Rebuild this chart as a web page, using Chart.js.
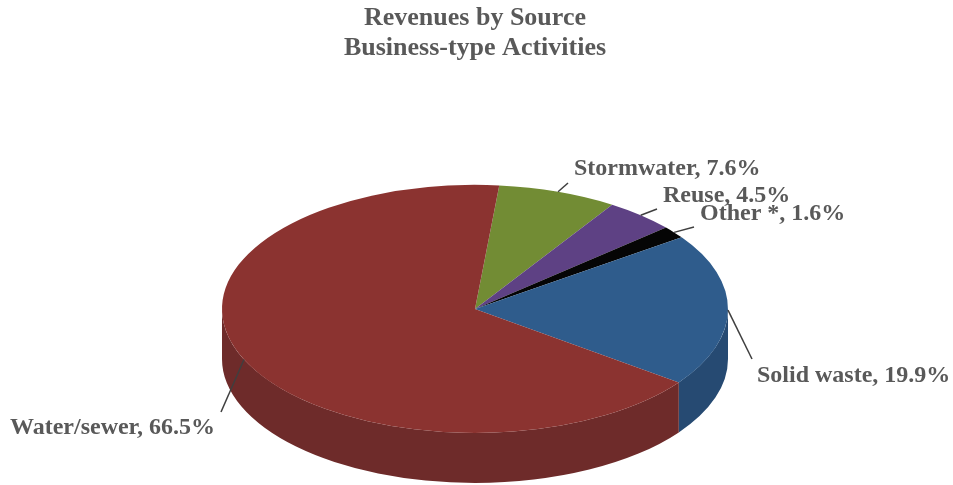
<!DOCTYPE html>
<html>
<head>
<meta charset="utf-8">
<title>Revenues by Source</title>
<script src="https://cdn.jsdelivr.net/npm/chart.js@4"></script>
<style>
    html, body { margin: 0; background: #fff; }
    canvas { display: block; }
</style>
</head>
<body>
<canvas id="revenueChart" width="953" height="485"></canvas>
<script>
const titleLines = ['Revenues by Source', 'Business-type Activities'];
const categories = ['Stormwater', 'Reuse', 'Other *', 'Solid waste', 'Water/sewer'];
const shares = [7.6, 4.5, 1.6, 19.9, 66.5];

const topColors = ['#728c34', '#5e4184', '#050505', '#2f5c8c', '#8b3330'];
const wallColors = ['#55692a', '#463162', '#000000', '#264a72', '#6e2b2a'];

// label anchor (left edge, middle of text) and where its leader line stops
const labelSpots = [
    { x: 574, y: 169, lineX: 568, lineY: 183 },
    { x: 663, y: 196, lineX: 657, lineY: 209 },
    { x: 700, y: 214, lineX: 694, lineY: 227 },
    { x: 757, y: 376, lineX: 752, lineY: 359 },
    { x: 10, y: 428, lineX: 221, lineY: 412 }
];

const pieWidth = 253;
const pieHeight = 124;
const pieDepth = 50;
const textFont = 'bold 24px "Liberation Serif"';

// the pie is drawn flat by Chart.js, this squashes it and adds the wall below
const tiltPlugin = {
    id: 'tilt',
    beforeDatasetsDraw(chart) {
        const ctx = chart.ctx;
        const arcs = chart.getDatasetMeta(0).data;
        const { x: cx, y: cy, outerRadius } = arcs[0];

        arcs.forEach((arc, i) => {
            // only the front half of the rim can be seen
            for (const shift of [-2 * Math.PI, 0, 2 * Math.PI]) {
                const from = Math.max(arc.startAngle + shift, 0);
                const to = Math.min(arc.endAngle + shift, Math.PI);
                if (to <= from) continue;
                ctx.beginPath();
                ctx.ellipse(cx, cy, pieWidth, pieHeight, 0, from, to);
                ctx.ellipse(cx, cy + pieDepth, pieWidth, pieHeight, 0, to, from, true);
                ctx.closePath();
                ctx.fillStyle = wallColors[i];
                ctx.fill();
            }
        });

        ctx.save();
        ctx.translate(cx, cy);
        ctx.scale(pieWidth / outerRadius, pieHeight / outerRadius);
        ctx.translate(-cx, -cy);
    },
    afterDatasetsDraw(chart) {
        const ctx = chart.ctx;
        ctx.restore();

        const arcs = chart.getDatasetMeta(0).data;
        ctx.font = textFont;
        ctx.textBaseline = 'middle';
        ctx.textAlign = 'left';
        arcs.forEach((arc, i) => {
            const mid = (arc.startAngle + arc.endAngle) / 2;
            const spot = labelSpots[i];
            ctx.beginPath();
            ctx.moveTo(arc.x + pieWidth * Math.cos(mid), arc.y + pieHeight * Math.sin(mid));
            ctx.lineTo(spot.lineX, spot.lineY);
            ctx.lineWidth = 1.5;
            ctx.strokeStyle = '#3f3f3f';
            ctx.stroke();

            ctx.fillStyle = '#595959';
            ctx.fillText(`${categories[i]}, ${shares[i].toFixed(1)}%`, spot.x, spot.y);
        });
    }
};

new Chart(document.getElementById('revenueChart'), {
    type: 'pie',
    data: {
        labels: categories,
        datasets: [{
            data: shares,
            backgroundColor: topColors,
            borderWidth: 0
        }]
    },
    options: {
        responsive: false,
        animation: false,
        rotation: 5.5,
        layout: { padding: { right: 3 } },
        events: [],
        plugins: {
            legend: { display: false },
            tooltip: { enabled: false },
            title: {
                display: true,
                text: titleLines,
                color: '#595959',
                font: { family: '"Liberation Serif"', size: 26, weight: 'bold', lineHeight: 1.15 },
                padding: { top: 3, bottom: 70 }
            }
        }
    },
    plugins: [tiltPlugin]
});
</script>
</body>
</html>
